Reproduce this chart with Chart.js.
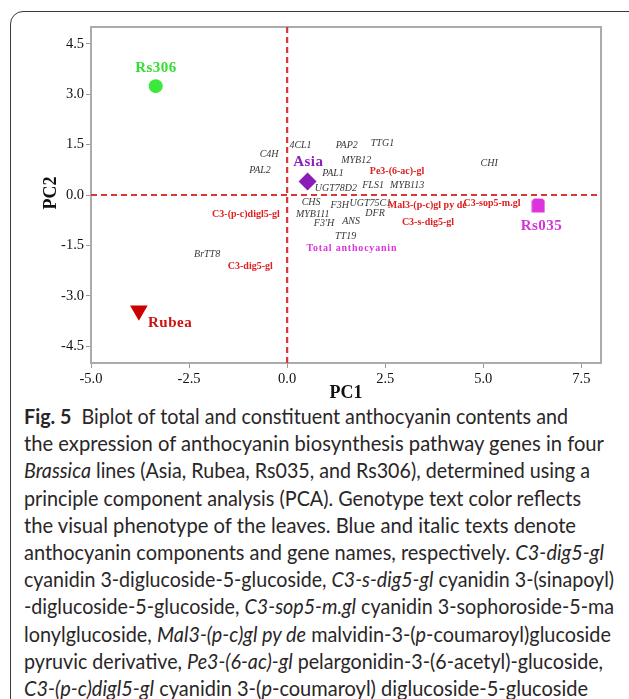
<!DOCTYPE html>
<html>
<head>
<meta charset="utf-8">
<script src="https://cdn.jsdelivr.net/npm/chart.js@4.4.0/dist/chart.umd.min.js"></script>
<style>
  html, body { margin: 0; padding: 0; background: #fff; width: 629px; height: 699px; overflow: hidden; }
  #card { position: absolute; left: 10px; top: 11px; width: 660px; height: 740px; border: 1.5px solid #3a3a3a; border-radius: 13px; box-sizing: border-box; }
  #wrap { position: absolute; left: 0; top: 0; width: 629px; height: 400px; }
  #caption { position: absolute; left: 24px; top: 402px; font-family: Lato, "Open Sans", sans-serif; font-size: 21px; line-height: 27.2px; color: #2a2627; white-space: nowrap; }
  #caption div { transform-origin: 0 50%; width: max-content; }
</style>
</head>
<body>
<div id="card"></div>
<div id="wrap"><canvas id="c" width="629" height="400"></canvas></div>
<div id="caption">
  <div data-w="544"><b>Fig. 5</b>&nbsp; Biplot of total and constituent anthocyanin contents and</div>
  <div data-w="580">the expression of anthocyanin biosynthesis pathway genes in four</div>
  <div data-w="566"><i>Brassica</i> lines (Asia, Rubea, Rs035, and Rs306), determined using a</div>
  <div data-w="557">principle component analysis (PCA). Genotype text color reflects</div>
  <div data-w="552">the visual phenotype of the leaves. Blue and italic texts denote</div>
  <div data-w="580">anthocyanin components and gene names, respectively. <i>C3-dig5-gl</i></div>
  <div data-w="590">cyanidin 3-diglucoside-5-glucoside, <i>C3-s-dig5-gl</i> cyanidin 3-(sinapoyl)</div>
  <div data-w="590">-diglucoside-5-glucoside, <i>C3-sop5-m.gl</i> cyanidin 3-sophoroside-5-ma</div>
  <div data-w="587">lonylglucoside, <i>Mal3-(p-c)gl py de</i> malvidin-3-(<i>p</i>-coumaroyl)glucoside</div>
  <div data-w="579">pyruvic derivative, <i>Pe3-(6-ac)-gl</i> pelargonidin-3-(6-acetyl)-glucoside,</div>
  <div data-w="564"><i>C3-(p-c)digl5-gl</i> cyanidin 3-(<i>p</i>-coumaroyl) diglucoside-5-glucoside</div>
</div>
<script>
// Axis ticks
const xTicks = [-5.0, -2.5, 0.0, 2.5, 5.0, 7.5];
const yTicks = [-4.5, -3.0, -1.5, 0.0, 1.5, 3.0, 4.5];

// Genotype scores (PC1, PC2)
const lines = ['Asia', 'Rubea', 'Rs035', 'Rs306'];
const lineX = [0.52, -3.78, 6.40, -3.35];
const lineY = [0.40, -3.44, -0.31, 3.24];

// Gene loadings
const genes = ['4CL1', 'C4H', 'PAL2', 'PAP2', 'TTG1', 'MYB12', 'PAL1', 'UGT78D2', 'FLS1', 'MYB113',
               'CHI', 'CHS', 'F3H', 'UGT75C1', 'DFR', 'MYB111', "F3'H", 'ANS', 'TT19', 'BrTT8'];
const geneX = [0.34, -0.46, -0.69, 1.52, 2.43, 1.76, 1.17, 1.24, 2.19, 3.06,
               5.15, 0.61, 1.34, 2.12, 2.24, 0.65, 0.94, 1.63, 1.49, -2.04];
const geneY = [1.47, 1.22, 0.73, 1.49, 1.53, 1.02, 0.64, 0.21, 0.28, 0.29,
               0.95, -0.21, -0.32, -0.24, -0.54, -0.57, -0.85, -0.78, -1.22, -1.76];

// Anthocyanin component loadings
const pigments = ['Pe3-(6-ac)-gl', 'Mal3-(p-c)gl py de', 'C3-sop5-m.gl', 'C3-s-dig5-gl',
                  'C3-(p-c)digl5-gl', 'C3-dig5-gl'];
const pigmentX = [2.80, 3.57, 5.22, 3.59, -1.05, -0.94];
const pigmentY = [0.70, -0.32, -0.24, -0.81, -0.58, -2.13];

// Total anthocyanin loading
const totalName = 'Total anthocyanin';
const totalX = 1.64;
const totalY = -1.59;

const SERIF = '"Liberation Serif", "Times New Roman", serif';

// House-shaped marker for Rs035
function houseMarker(color) {
  const cv = document.createElement('canvas');
  cv.width = 14; cv.height = 15;
  const g = cv.getContext('2d');
  g.fillStyle = color;
  g.beginPath();
  g.moveTo(0.5, 14.5); g.lineTo(13.5, 14.5); g.lineTo(13.5, 3);
  g.lineTo(11.5, 0.8); g.lineTo(3, 0.5); g.lineTo(0.5, 3);
  g.closePath(); g.fill();
  return cv;
}

const lineStyle = {
  'Asia':  { marker: 'rectRot', radius: 9, color: '#8a1cb8', label: '#8c1fbf', dx: 0.5, dy: -19 },
  'Rubea': { marker: 'triangle', radius: 10.2, rotation: 180, color: '#cc0000', label: '#cc1111', dx: 31, dy: 12.5 },
  'Rs035': { marker: houseMarker('#dd33dd'), radius: 7, color: '#dd33dd', label: '#d633d6', dx: 3, dy: 21 },
  'Rs306': { marker: 'circle', radius: 7, color: '#3de83d', label: '#33dd33', dx: 0, dy: -18 }
};

const datasets = lines.map((name, i) => {
  const s = lineStyle[name];
  return {
    label: name,
    data: [{ x: lineX[i], y: lineY[i] }],
    pointStyle: s.marker,
    pointRadius: s.radius,
    pointRotation: s.rotation || 0,
    backgroundColor: s.color,
    borderColor: s.color,
    borderWidth: 0
  };
});

function drawText(ctx, text, x, y, font, color, spacing) {
  ctx.save();
  ctx.font = font;
  ctx.fillStyle = color;
  ctx.textAlign = 'center';
  ctx.textBaseline = 'middle';
  if (spacing) { ctx.letterSpacing = spacing + 'px'; x += spacing / 2; }
  ctx.fillText(text, x, y);
  ctx.restore();
}

// Frame, zero reference lines, labels and axis titles
const biplotDecor = {
  id: 'biplotDecor',
  beforeDatasetsDraw(chart) {
    const { ctx, chartArea: a, scales: { x, y } } = chart;
    ctx.save();
    ctx.strokeStyle = '#ababab';
    ctx.lineWidth = 2;
    ctx.strokeRect(a.left, a.top, a.right - a.left, a.bottom - a.top);
    ctx.strokeStyle = '#dd3535';
    ctx.lineWidth = 2.2;
    ctx.setLineDash([6, 4]);
    const x0 = x.getPixelForValue(0), y0 = y.getPixelForValue(0);
    ctx.beginPath();
    ctx.moveTo(a.left, y0); ctx.lineTo(a.right, y0);
    ctx.moveTo(x0, a.top); ctx.lineTo(x0, a.bottom);
    ctx.stroke();
    ctx.restore();

    genes.forEach((g, i) => drawText(ctx, g, x.getPixelForValue(geneX[i]), y.getPixelForValue(geneY[i]),
      'italic 10px ' + SERIF, '#383838'));
    pigments.forEach((p, i) => drawText(ctx, p, x.getPixelForValue(pigmentX[i]), y.getPixelForValue(pigmentY[i]),
      'bold 10px ' + SERIF, '#dd2020'));
    drawText(ctx, totalName, x.getPixelForValue(totalX), y.getPixelForValue(totalY),
      'bold 10px ' + SERIF, '#dd33dd', 0.8);
  },
  afterDatasetsDraw(chart) {
    const { ctx, chartArea: a, scales: { x, y } } = chart;
    lines.forEach((name, i) => {
      const s = lineStyle[name];
      drawText(ctx, name, x.getPixelForValue(lineX[i]) + s.dx, y.getPixelForValue(lineY[i]) + s.dy,
        'bold 15px ' + SERIF, s.label, 0.5);
    });
    drawText(ctx, 'PC1', (a.left + a.right) / 2, 393, 'bold 18px ' + SERIF, '#111');
    ctx.save();
    ctx.translate(51, (a.top + a.bottom) / 2 - 2);
    ctx.rotate(-Math.PI / 2);
    drawText(ctx, 'PC2', 0, 0, 'bold 18px ' + SERIF, '#111');
    ctx.restore();
  }
};

function axis(ticks, min, max) {
  return {
    type: 'linear',
    min, max,
    afterBuildTicks: s => { s.ticks = ticks.map(v => ({ value: v })); },
    grid: { drawOnChartArea: false, drawTicks: true, tickLength: 5, color: '#9a9a9a', lineWidth: 1 },
    border: { display: false },
    ticks: {
      color: '#111',
      font: { family: SERIF, size: 14.5 },
      padding: 2,
      maxRotation: 0,
      autoSkip: false,
      callback: v => Number(v).toFixed(1)
    }
  };
}

const xAxis = axis(xTicks, -5, 8);
xAxis.afterFit = s => { s.height = 37; };
const yAxis = axis(yTicks, -5, 5);
yAxis.afterFit = s => { s.width = 91; };

new Chart(document.getElementById('c'), {
  type: 'scatter',
  data: { datasets },
  options: {
    responsive: false,
    animation: false,
    layout: { padding: { left: 0, top: 27, right: 28, bottom: 0 }, autoPadding: false },
    plugins: { legend: { display: false }, tooltip: { enabled: false } },
    scales: { x: xAxis, y: yAxis }
  },
  plugins: [biplotDecor]
});

// Set each caption line to its column width
document.querySelectorAll('#caption div').forEach(d => {
  const w = d.getBoundingClientRect().width;
  const target = Number(d.dataset.w);
  d.style.transform = 'scaleX(' + (target / w).toFixed(4) + ')';
});
</script>
</body>
</html>
